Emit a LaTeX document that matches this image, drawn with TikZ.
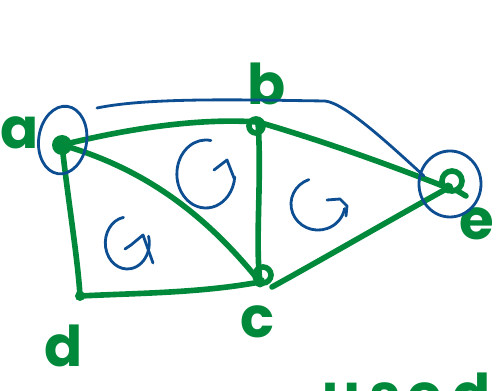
\documentclass[tikz,border=0pt]{standalone}
\usepackage{fontspec}
\newfontfamily\hand{Poppins}
\definecolor{hgreen}{RGB}{0,137,58}
\definecolor{hblue}{RGB}{12,78,145}
\begin{document}
\begin{tikzpicture}[x=0.02cm,y=-0.02cm,
  gline/.style={draw=hgreen,line width=3.2pt,line cap=round,line join=round},
  bline/.style={draw=hblue,line width=1.6pt,line cap=round,line join=round},
  vtx/.style={circle,fill=hgreen,inner sep=0pt,minimum size=#1},
  vtx/.default=0.24cm,
  lbl/.style={text=hgreen,font=\hand\bfseries\fontsize{32}{32}\selectfont,inner sep=0pt}]
\useasboundingbox (0,0) rectangle (501,391);
% vertices
\node[vtx=0.4cm] (a) at (62,145) {};
\node[vtx=0.16cm] (b) at (258,122) {};
\node[vtx=0.22cm] (c) at (260,282) {};
\node[vtx=0.2cm] (d) at (80,296) {};
\node[vtx=0.22cm] (e) at (448,188) {};
% vertex loops
\draw[gline] (b) ++(-2,4) circle (7);
\draw[gline] (c) ++(3,-7) circle (8);
\draw[gline] (e) ++(4,-7) circle (10);
\draw[gline] (e) ++(8,2) -- ++(10,6);
% labels
\node[lbl] (la) at (20,133) {a};
\node[lbl] (lb) at (267,84) {b};
\node[lbl] (lc) at (258,322) {c};
\node[lbl] (ld) at (64,346) {d};
\node[lbl] (le) at (477,224) {e};
\node[lbl,anchor=base west] (lused) at (322,415) {u\kern5pt s\kern4pt e\kern6pt d};
% green edges
\draw[gline] (a.center) .. controls (130,128) and (200,118) .. (b.center);
\draw[gline] (a.center) .. controls (68,200) and (78,260) .. (d.center);
\draw[gline] (a.center) .. controls (150,170) and (210,220) .. (c.center);
\draw[gline] (b.center) .. controls (262,180) and (255,240) .. (c.center);
\draw[gline] (b.center) .. controls (320,140) and (390,165) .. (e.center);
\draw[gline] (c.center) ++(12,5) coordinate (c2) .. controls (330,255) and (390,220) .. (e.center);
\draw[gline] (d.center) .. controls (140,293) and (200,293) .. (c.center);
% blue rings
\draw[bline, rotate around={-8:(a.center)}] (a.center) ++(0,-5) ellipse (24 and 34);
\draw[bline] (e.center) ++(2,-4) ellipse (31 and 33);
% blue top curve
\coordinate (t0) at (97,108);
\coordinate (t1) at (325,101);
\coordinate (t2) at (424,176);
\draw[bline] (t0) .. controls (150,97) and (250,100) .. (t1) .. controls (345,103) and (390,145) .. (t2);
% rotation marks
\draw[bline] (205,174) ++(-80:34) arc[start angle=-80,end angle=-355,x radius=29,y radius=34] coordinate (r1);
\draw[bline] (214,170) -- (227,160) -- (234,178);
\draw[bline] (128,243) ++(-100:26) arc[start angle=-100,end angle=-375,x radius=22,y radius=26] coordinate (r2);
\draw[bline] (125,249) -- (131,245) -- (143,235) -- (153,263);
\draw[bline] (318,205) ++(-110:27) arc[start angle=-110,end angle=-350,x radius=27,y radius=26] coordinate (r3);
\draw[bline] (327,200) -- (340,199) -- (347,206) -- (346,216);
\end{tikzpicture}
\end{document}
